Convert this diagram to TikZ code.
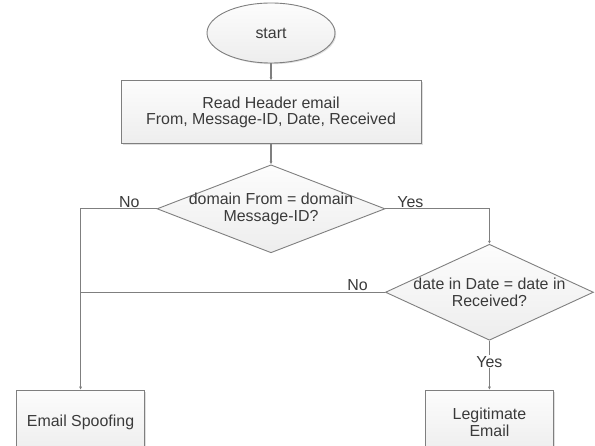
\documentclass[tikz,border=0pt]{standalone}
\usepackage{fontspec}
\setmainfont{Liberation Sans}
\usetikzlibrary{shapes.geometric, shapes.misc, calc, arrows.meta, positioning, shadows}
\definecolor{linegray}{HTML}{7F7F7F}
\definecolor{textgray}{HTML}{3A3A3A}
\tikzstyle{line} = [draw=linegray, line width=1.1bp, -{Latex[length=3bp,width=3bp]}]

\begin{document}
\begin{tikzpicture}[auto, node distance=2cm and 2cm, >=Stealth, every node/.style={font=\fontsize{16}{17}\selectfont, text=textgray}]
  % Define styles
  \tikzstyle{startstop} = [ellipse, minimum width=128bp, minimum height=60bp, inner sep=0pt, draw=linegray, line width=0.9bp, top color=gray!2, bottom color=gray!14, drop shadow={shadow xshift=1.2bp, shadow yshift=-1.2bp, opacity=0.25}]
  \tikzstyle{process} = [rectangle, minimum width=300bp, minimum height=63bp, align=center, draw=linegray, line width=0.9bp, top color=gray!2, bottom color=gray!14, drop shadow={shadow xshift=1.5bp, shadow yshift=-1.5bp, opacity=0.25}]
  \tikzstyle{decision} = [diamond, inner sep=0pt, draw=linegray, line width=0.9bp, top color=gray!2, bottom color=gray!14]
  \tikzstyle{dtext} = [align=center, inner sep=0pt]
  \tikzstyle{endbox} = [rectangle, minimum width=128bp, minimum height=64bp, align=center, draw=linegray, line width=0.9bp, top color=gray!2, bottom color=gray!14, drop shadow={shadow xshift=1.5bp, shadow yshift=-1.5bp, opacity=0.25}]
  \tikzstyle{lbl} = [above, inner sep=1bp]

  \useasboundingbox (0,0) rectangle (595bp,446bp);

  % Place nodes
  \node [startstop] (start) at (271bp,413bp) {start};
  \node [process, below=17bp of start] (readheader) {Read Header email\\From, Message-ID, Date, Received};
  \node [decision, minimum width=228bp, minimum height=88bp, below=20bp of readheader,
    label={[dtext]center:domain From = domain\\Message-ID?}] (checkdomain) {};
  \node [decision, minimum width=208bp, minimum height=96bp, below=35bp of checkdomain.east, xshift=104bp,
    label={[dtext]center:date in Date = date in\\Received?}] (checkdate) {};
  \node [endbox, below=49bp of checkdate.south] (legitimate) {Legitimate\\Email};
  \node [endbox, left=280bp of legitimate] (spoofing) {Email Spoofing};

  % Draw edges
  \path [line] (start) -- (readheader);
  \path [line] (readheader) -- (checkdomain);
  \path [line] (checkdomain.west) -- node [lbl, pos=0.36] {No} (spoofing.north |- checkdomain.west) -- (spoofing.north);
  \path [line] (checkdomain.east) -- node [lbl, pos=0.24] {Yes} (checkdate.north |- checkdomain.east) -- (checkdate.north);
  \path [draw=linegray, line width=1.1bp] (checkdate.west) -- node [lbl, pos=0.09] {No} (spoofing.north |- checkdate.west);
  \path [line] (checkdate.south) -- node [anchor=center, fill=white, inner sep=1bp, pos=0.43] {Yes} (legitimate.north);
\end{tikzpicture}
\end{document}
